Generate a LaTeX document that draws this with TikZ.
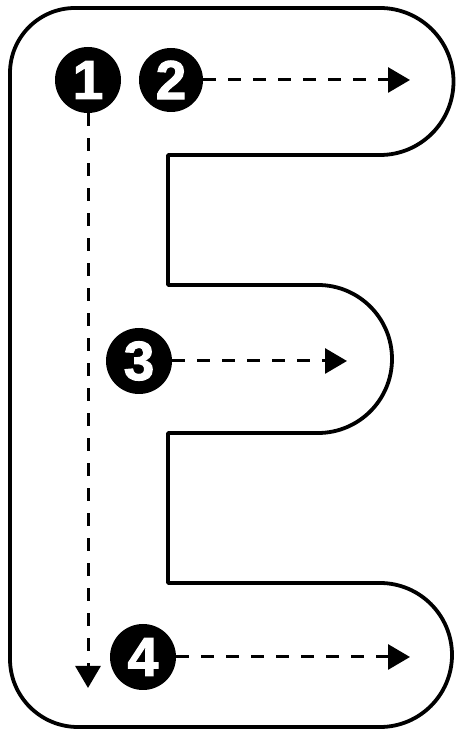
\documentclass[tikz,border=0pt]{standalone}
\usepackage{fontspec}
\setmainfont{Liberation Sans}
\newfontfamily\digitfont[FakeBold=2]{Liberation Sans Bold}
\usetikzlibrary{arrows.meta}
\begin{document}
\begin{tikzpicture}[x=1pt,y=1pt,
  numdot/.style={circle,fill=black,text=white,inner sep=0pt,minimum size=66pt,
    font=\digitfont\fontsize{55}{55}\selectfont},
  outline/.style={line width=3.8pt,line join=round},
  guide/.style={line width=3pt,dash pattern=on 13pt off 12pt,
    -{Triangle[length=22pt,width=25pt]}}]
\useasboundingbox (0,0) rectangle (457,734);
% letter E outline
\draw[outline] (10,661) arc (180:90:65) -- (380,726) arc (90:-90:73.5)
  -- (168,579) -- (168,449) -- (318,449) arc (90:-90:74)
  -- (168,301) -- (168,151) -- (380,151) arc (90:-90:72)
  -- (78,7) arc (270:180:68) -- cycle;
% numbered dots
\node[numdot] (n1) at (88,654) {1};
\node[numdot,minimum size=64pt] (n2) at (171,654) {2};
\node[numdot] (n3) at (139,373) {3};
\node[numdot] (n4) at (143,77) {4};
% arrow ends
\coordinate (e1) at (88,46);
\coordinate (e2) at (410,654);
\coordinate (e3) at (347,373);
\coordinate (e4) at (410,77);
% guides
\draw[guide] (n1.south) -- (e1);
\draw[guide] (n2.east) -- (e2);
\draw[guide] (n3.east) -- (e3);
\draw[guide] (n4.east) -- (e4);
\end{tikzpicture}
\end{document}
